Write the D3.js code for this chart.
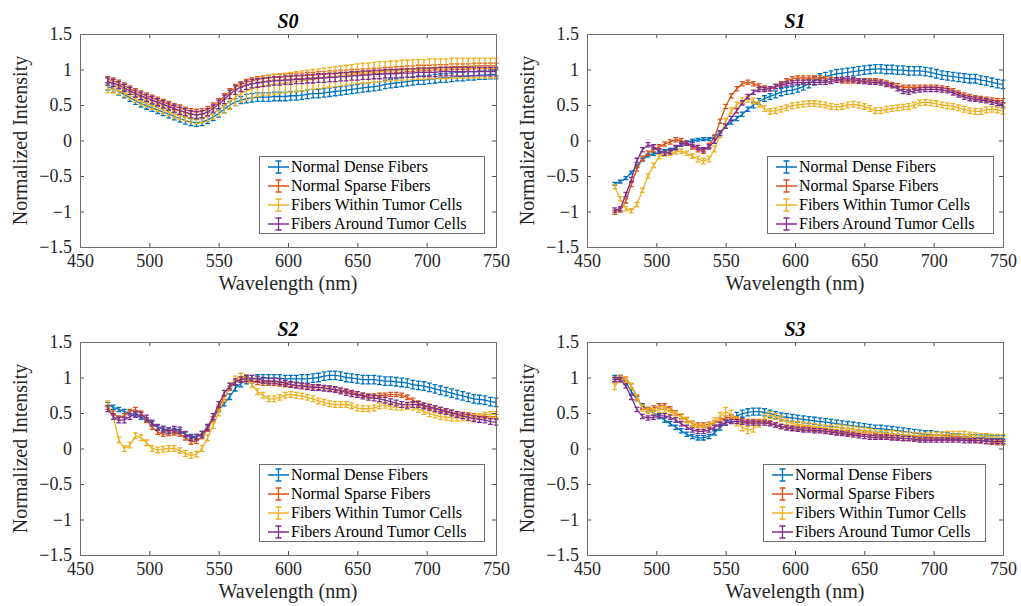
<!DOCTYPE html>
<html>
<head>
<meta charset="utf-8">
<script src="https://cdn.jsdelivr.net/npm/d3@7"></script>
<style>
  body { margin: 0; background: #fff; }
  svg { display: block; }
</style>
</head>
<body>
<svg id="chart" width="1021" height="606"></svg>
<script>
// Wavelength grid (nm) shared by every spectrum
const wavelengths = d3.range(470, 751, 4);

const seriesNames = ["Normal Dense Fibers", "Normal Sparse Fibers", "Fibers Within Tumor Cells", "Fibers Around Tumor Cells"];
const xTicks = [450, 500, 550, 600, 650, 700, 750];
const yTicks = [-1.5, -1, -0.5, 0, 0.5, 1, 1.5];

// ---- S0 ----
const s0Dense = [0.76,0.73,0.69,0.65,0.60,0.56,0.52,0.49,0.46,0.43,
  0.40,0.37,0.34,0.31,0.28,0.26,0.25,0.26,0.29,0.33,
  0.38,0.44,0.50,0.54,0.57,0.59,0.60,0.61,0.61,0.61,
  0.62,0.62,0.62,0.63,0.63,0.64,0.65,0.66,0.66,0.67,
  0.68,0.69,0.70,0.71,0.72,0.73,0.74,0.75,0.76,0.77,
  0.79,0.80,0.81,0.82,0.83,0.84,0.85,0.85,0.86,0.87,
  0.88,0.88,0.89,0.90,0.90,0.91,0.91,0.92,0.92,0.93,0.93];
const s0Sparse = [0.86,0.84,0.81,0.77,0.73,0.69,0.66,0.63,0.60,0.57,
  0.54,0.51,0.48,0.46,0.43,0.41,0.40,0.41,0.44,0.49,
  0.55,0.62,0.69,0.75,0.79,0.82,0.84,0.86,0.87,0.88,
  0.89,0.89,0.90,0.90,0.91,0.91,0.92,0.92,0.93,0.93,
  0.94,0.94,0.95,0.95,0.96,0.96,0.97,0.97,0.98,0.98,
  0.99,0.99,1.00,1.00,1.01,1.01,1.02,1.02,1.02,1.03,
  1.03,1.03,1.04,1.04,1.04,1.04,1.05,1.05,1.05,1.05,1.05];
const s0Within = [0.72,0.72,0.70,0.67,0.63,0.59,0.55,0.52,0.49,0.46,
  0.43,0.40,0.37,0.35,0.33,0.31,0.30,0.31,0.34,0.38,
  0.43,0.49,0.55,0.61,0.66,0.70,0.73,0.75,0.77,0.78,
  0.79,0.80,0.81,0.82,0.83,0.84,0.85,0.86,0.87,0.88,
  0.89,0.90,0.91,0.92,0.93,0.94,0.95,0.95,0.96,0.97,
  0.97,0.98,0.98,0.99,0.99,1.00,1.00,1.00,1.01,1.01,
  1.01,1.01,1.02,1.02,1.02,1.02,1.02,1.02,1.02,1.02,1.02];
const s0Around = [0.83,0.81,0.78,0.74,0.70,0.66,0.63,0.60,0.57,0.54,
  0.51,0.48,0.45,0.42,0.40,0.37,0.36,0.37,0.40,0.45,
  0.51,0.58,0.65,0.71,0.75,0.78,0.80,0.81,0.82,0.83,
  0.84,0.84,0.85,0.85,0.86,0.86,0.87,0.87,0.88,0.88,
  0.89,0.89,0.90,0.90,0.91,0.91,0.92,0.92,0.93,0.93,
  0.94,0.94,0.94,0.95,0.95,0.95,0.96,0.96,0.96,0.96,
  0.97,0.97,0.97,0.97,0.97,0.97,0.97,0.97,0.97,0.97,0.97];
const s0DenseErr = [0.05,0.05,0.05,0.05,0.05,0.05,0.05,0.05,0.05,0.05,
  0.05,0.05,0.05,0.05,0.05,0.05,0.05,0.05,0.05,0.05,
  0.05,0.05,0.05,0.05,0.05,0.06,0.06,0.06,0.06,0.06,
  0.06,0.06,0.06,0.06,0.06,0.06,0.06,0.06,0.06,0.06,
  0.06,0.06,0.06,0.06,0.06,0.06,0.06,0.06,0.06,0.06,
  0.06,0.06,0.06,0.06,0.06,0.06,0.06,0.06,0.06,0.06,
  0.06,0.06,0.06,0.06,0.06,0.06,0.06,0.06,0.06,0.06,0.06];
const s0SparseErr = [0.04,0.04,0.04,0.04,0.04,0.04,0.04,0.04,0.04,0.04,
  0.04,0.04,0.04,0.04,0.04,0.04,0.04,0.04,0.04,0.04,
  0.04,0.04,0.04,0.04,0.04,0.04,0.04,0.04,0.04,0.04,
  0.04,0.04,0.04,0.04,0.04,0.04,0.04,0.04,0.04,0.04,
  0.04,0.04,0.04,0.04,0.04,0.04,0.04,0.04,0.04,0.04,
  0.04,0.04,0.04,0.04,0.04,0.04,0.04,0.04,0.04,0.04,
  0.04,0.04,0.04,0.04,0.04,0.04,0.04,0.04,0.04,0.04,0.04];
const s0WithinErr = [0.05,0.05,0.05,0.05,0.05,0.05,0.05,0.05,0.05,0.05,
  0.05,0.05,0.05,0.05,0.05,0.05,0.06,0.06,0.07,0.08,
  0.09,0.10,0.11,0.12,0.12,0.13,0.13,0.13,0.13,0.14,
  0.14,0.14,0.14,0.14,0.14,0.14,0.14,0.14,0.14,0.14,
  0.14,0.14,0.14,0.14,0.14,0.14,0.14,0.14,0.14,0.14,
  0.14,0.14,0.14,0.14,0.14,0.14,0.14,0.14,0.14,0.14,
  0.14,0.14,0.14,0.14,0.14,0.14,0.14,0.14,0.14,0.14,0.14];
const s0AroundErr = [0.05,0.05,0.05,0.05,0.05,0.05,0.05,0.05,0.05,0.05,
  0.05,0.05,0.05,0.05,0.05,0.05,0.05,0.05,0.05,0.05,
  0.06,0.06,0.06,0.06,0.06,0.06,0.06,0.06,0.06,0.06,
  0.06,0.06,0.06,0.06,0.06,0.06,0.06,0.06,0.06,0.06,
  0.06,0.06,0.06,0.06,0.06,0.06,0.06,0.06,0.06,0.06,
  0.06,0.06,0.06,0.06,0.06,0.06,0.06,0.06,0.06,0.06,
  0.06,0.06,0.06,0.06,0.06,0.06,0.06,0.06,0.06,0.06,0.06];

// ---- S1 ----
const s1Dense = [-0.61,-0.58,-0.53,-0.45,-0.36,-0.27,-0.21,-0.19,-0.17,-0.15,
  -0.13,-0.10,-0.06,-0.03,0.00,0.01,0.02,0.02,0.05,0.12,
  0.20,0.26,0.31,0.37,0.44,0.50,0.55,0.59,0.62,0.65,
  0.68,0.70,0.71,0.73,0.76,0.80,0.84,0.88,0.90,0.92,
  0.94,0.95,0.96,0.97,0.98,0.99,1.00,1.01,1.01,1.00,
  1.00,0.99,0.99,0.98,0.98,0.98,0.97,0.96,0.94,0.92,
  0.91,0.90,0.89,0.88,0.87,0.87,0.85,0.84,0.82,0.80,0.79];
const s1Sparse = [-1.01,-0.98,-0.85,-0.62,-0.40,-0.25,-0.18,-0.13,-0.09,-0.05,
  -0.02,0.01,0.00,-0.04,-0.09,-0.13,-0.15,-0.07,0.05,0.27,
  0.48,0.63,0.73,0.80,0.82,0.80,0.77,0.74,0.73,0.76,
  0.80,0.84,0.87,0.88,0.88,0.88,0.88,0.88,0.87,0.86,
  0.85,0.84,0.84,0.84,0.84,0.84,0.84,0.84,0.83,0.81,
  0.79,0.77,0.75,0.75,0.75,0.75,0.75,0.75,0.75,0.74,
  0.73,0.70,0.67,0.64,0.62,0.60,0.59,0.58,0.57,0.56,0.56];
const s1Within = [-0.65,-0.82,-0.96,-0.99,-0.90,-0.70,-0.50,-0.35,-0.23,-0.19,
  -0.18,-0.16,-0.15,-0.18,-0.22,-0.26,-0.29,-0.26,-0.12,0.08,
  0.27,0.42,0.50,0.56,0.58,0.56,0.51,0.45,0.41,0.42,
  0.44,0.46,0.49,0.50,0.51,0.52,0.52,0.51,0.50,0.48,
  0.47,0.48,0.50,0.51,0.50,0.48,0.45,0.42,0.42,0.44,
  0.45,0.46,0.47,0.48,0.50,0.53,0.54,0.53,0.52,0.50,
  0.49,0.48,0.46,0.44,0.42,0.41,0.41,0.43,0.44,0.43,0.41];
const s1Around = [-0.98,-0.96,-0.76,-0.55,-0.28,-0.13,-0.06,-0.09,-0.15,-0.18,
  -0.16,-0.10,-0.05,-0.04,-0.06,-0.10,-0.13,-0.09,-0.01,0.10,
  0.20,0.31,0.42,0.53,0.62,0.68,0.72,0.72,0.73,0.76,
  0.78,0.80,0.81,0.82,0.82,0.82,0.82,0.82,0.82,0.83,
  0.85,0.86,0.87,0.86,0.84,0.83,0.82,0.82,0.81,0.79,
  0.77,0.73,0.69,0.68,0.70,0.71,0.72,0.72,0.72,0.71,
  0.70,0.67,0.64,0.61,0.59,0.58,0.57,0.56,0.54,0.52,0.50];
const s1DenseErr = [0.02,0.02,0.02,0.02,0.02,0.02,0.02,0.02,0.02,0.02,
  0.02,0.02,0.02,0.02,0.02,0.02,0.02,0.02,0.02,0.02,
  0.03,0.03,0.03,0.03,0.03,0.04,0.04,0.04,0.04,0.05,
  0.05,0.05,0.05,0.05,0.05,0.06,0.06,0.06,0.06,0.06,
  0.06,0.06,0.06,0.06,0.06,0.06,0.06,0.06,0.06,0.06,
  0.06,0.06,0.06,0.06,0.06,0.06,0.06,0.06,0.06,0.06,
  0.06,0.06,0.06,0.06,0.06,0.06,0.06,0.06,0.06,0.06,0.06];
const s1SparseErr = [0.03,0.03,0.03,0.03,0.03,0.03,0.03,0.03,0.03,0.03,
  0.03,0.03,0.03,0.03,0.03,0.03,0.03,0.03,0.03,0.03,
  0.03,0.03,0.03,0.03,0.03,0.03,0.03,0.03,0.03,0.03,
  0.03,0.03,0.03,0.03,0.03,0.03,0.03,0.03,0.03,0.03,
  0.03,0.03,0.03,0.03,0.03,0.03,0.03,0.03,0.03,0.03,
  0.03,0.03,0.03,0.03,0.03,0.03,0.03,0.03,0.03,0.03,
  0.03,0.03,0.03,0.03,0.03,0.03,0.03,0.03,0.03,0.03,0.03];
const s1WithinErr = [0.03,0.03,0.03,0.03,0.03,0.03,0.03,0.03,0.03,0.03,
  0.03,0.03,0.03,0.03,0.03,0.04,0.04,0.04,0.04,0.04,
  0.04,0.04,0.04,0.04,0.04,0.04,0.04,0.04,0.04,0.04,
  0.04,0.04,0.04,0.04,0.04,0.04,0.04,0.04,0.04,0.04,
  0.04,0.04,0.04,0.04,0.04,0.04,0.04,0.04,0.04,0.04,
  0.04,0.04,0.04,0.04,0.04,0.04,0.04,0.04,0.04,0.04,
  0.04,0.04,0.04,0.04,0.04,0.04,0.04,0.04,0.04,0.04,0.04];
const s1AroundErr = [0.03,0.03,0.03,0.03,0.03,0.03,0.03,0.03,0.03,0.03,
  0.03,0.03,0.03,0.03,0.03,0.03,0.03,0.03,0.03,0.03,
  0.03,0.03,0.03,0.03,0.03,0.03,0.03,0.03,0.03,0.03,
  0.03,0.03,0.03,0.03,0.03,0.03,0.03,0.03,0.03,0.03,
  0.03,0.03,0.03,0.03,0.03,0.03,0.03,0.03,0.03,0.03,
  0.03,0.03,0.03,0.03,0.03,0.03,0.03,0.03,0.03,0.03,
  0.03,0.03,0.03,0.03,0.03,0.03,0.03,0.03,0.03,0.03,0.03];

// ---- S2 ----
const s2Dense = [0.62,0.58,0.55,0.52,0.50,0.47,0.44,0.40,0.35,0.30,
  0.28,0.26,0.25,0.24,0.20,0.17,0.17,0.21,0.30,0.42,
  0.55,0.63,0.73,0.85,0.92,0.96,0.98,0.99,0.99,0.99,
  0.99,0.99,0.98,0.98,0.98,0.98,0.98,0.99,1.00,1.02,
  1.03,1.03,1.02,1.00,0.99,0.98,0.97,0.97,0.97,0.96,
  0.95,0.95,0.94,0.93,0.92,0.90,0.89,0.88,0.86,0.84,
  0.82,0.80,0.78,0.76,0.74,0.72,0.70,0.69,0.68,0.66,0.65];
const s2Sparse = [0.58,0.50,0.43,0.46,0.52,0.55,0.50,0.40,0.30,0.23,
  0.20,0.21,0.22,0.20,0.15,0.09,0.10,0.17,0.27,0.42,
  0.58,0.72,0.85,0.93,0.97,0.97,0.95,0.93,0.92,0.92,
  0.92,0.91,0.90,0.90,0.89,0.88,0.88,0.87,0.86,0.85,
  0.84,0.83,0.82,0.81,0.79,0.77,0.75,0.74,0.74,0.75,
  0.75,0.76,0.76,0.75,0.72,0.68,0.64,0.61,0.59,0.57,
  0.55,0.53,0.51,0.49,0.48,0.47,0.46,0.46,0.45,0.45,0.45];
const s2Within = [0.63,0.45,0.12,0.00,0.05,0.18,0.15,0.08,0.00,-0.02,
  -0.01,0.00,0.00,-0.03,-0.07,-0.10,-0.08,0.00,0.15,0.32,
  0.50,0.70,0.88,0.98,1.02,1.00,0.90,0.80,0.75,0.70,
  0.70,0.72,0.75,0.76,0.75,0.74,0.72,0.70,0.67,0.65,
  0.63,0.62,0.62,0.62,0.60,0.57,0.56,0.56,0.57,0.60,
  0.61,0.59,0.58,0.58,0.59,0.58,0.55,0.52,0.49,0.47,
  0.45,0.44,0.43,0.43,0.43,0.43,0.44,0.45,0.47,0.48,0.48];
const s2Around = [0.56,0.45,0.40,0.40,0.45,0.48,0.47,0.43,0.36,0.30,
  0.27,0.25,0.27,0.26,0.20,0.15,0.16,0.20,0.30,0.45,
  0.62,0.78,0.88,0.94,0.97,0.99,0.99,0.98,0.96,0.95,
  0.95,0.94,0.92,0.90,0.89,0.88,0.87,0.86,0.86,0.85,
  0.84,0.83,0.81,0.79,0.77,0.76,0.74,0.72,0.71,0.70,
  0.68,0.66,0.64,0.62,0.61,0.62,0.62,0.60,0.58,0.56,
  0.54,0.52,0.50,0.48,0.46,0.44,0.42,0.41,0.40,0.38,0.37];
const s2DenseErr = [0.03,0.03,0.03,0.03,0.03,0.03,0.03,0.03,0.03,0.03,
  0.03,0.03,0.03,0.03,0.03,0.03,0.03,0.03,0.03,0.03,
  0.03,0.03,0.04,0.04,0.05,0.05,0.05,0.05,0.05,0.05,
  0.05,0.05,0.05,0.05,0.05,0.06,0.06,0.06,0.06,0.06,
  0.06,0.06,0.06,0.06,0.06,0.06,0.06,0.06,0.06,0.06,
  0.06,0.06,0.06,0.06,0.06,0.06,0.06,0.06,0.06,0.06,
  0.06,0.06,0.06,0.06,0.06,0.06,0.06,0.06,0.06,0.06,0.06];
const s2SparseErr = [0.03,0.03,0.03,0.03,0.03,0.03,0.03,0.03,0.03,0.03,
  0.03,0.03,0.03,0.03,0.03,0.03,0.03,0.03,0.03,0.03,
  0.03,0.03,0.03,0.03,0.03,0.03,0.03,0.03,0.03,0.03,
  0.03,0.03,0.03,0.03,0.03,0.03,0.03,0.03,0.03,0.03,
  0.03,0.03,0.03,0.03,0.03,0.03,0.03,0.03,0.03,0.03,
  0.03,0.03,0.03,0.03,0.03,0.03,0.03,0.03,0.03,0.03,
  0.03,0.03,0.03,0.03,0.03,0.03,0.03,0.03,0.03,0.03,0.03];
const s2WithinErr = [0.04,0.04,0.04,0.04,0.04,0.04,0.04,0.04,0.04,0.04,
  0.04,0.04,0.04,0.04,0.04,0.04,0.04,0.04,0.04,0.04,
  0.04,0.04,0.04,0.04,0.04,0.04,0.04,0.04,0.04,0.04,
  0.04,0.04,0.04,0.04,0.04,0.04,0.04,0.04,0.04,0.04,
  0.04,0.04,0.04,0.04,0.04,0.04,0.04,0.04,0.04,0.04,
  0.04,0.04,0.04,0.04,0.04,0.04,0.04,0.04,0.04,0.04,
  0.04,0.04,0.04,0.04,0.04,0.04,0.04,0.04,0.04,0.04,0.04];
const s2AroundErr = [0.04,0.04,0.04,0.04,0.04,0.04,0.04,0.04,0.04,0.04,
  0.04,0.04,0.04,0.04,0.04,0.04,0.04,0.04,0.04,0.04,
  0.04,0.04,0.04,0.04,0.04,0.04,0.04,0.04,0.04,0.04,
  0.04,0.04,0.04,0.04,0.04,0.04,0.04,0.04,0.04,0.04,
  0.04,0.04,0.04,0.04,0.04,0.04,0.04,0.04,0.04,0.04,
  0.04,0.04,0.04,0.04,0.04,0.04,0.04,0.04,0.04,0.04,
  0.04,0.04,0.04,0.04,0.04,0.04,0.04,0.04,0.04,0.04,0.04];

// ---- S3 ----
const s3Dense = [1.00,1.00,0.93,0.80,0.70,0.60,0.55,0.50,0.45,0.40,
  0.35,0.30,0.25,0.20,0.17,0.15,0.15,0.17,0.22,0.30,
  0.37,0.42,0.46,0.49,0.51,0.52,0.52,0.51,0.49,0.47,
  0.45,0.44,0.43,0.42,0.41,0.40,0.39,0.38,0.37,0.36,
  0.35,0.34,0.33,0.32,0.31,0.30,0.29,0.28,0.28,0.27,
  0.26,0.25,0.24,0.23,0.22,0.21,0.20,0.20,0.19,0.18,
  0.18,0.17,0.17,0.16,0.16,0.15,0.15,0.15,0.14,0.14,0.14];
const s3Sparse = [0.97,1.00,0.98,0.88,0.72,0.58,0.55,0.57,0.60,0.60,
  0.56,0.50,0.45,0.40,0.35,0.33,0.33,0.34,0.36,0.40,
  0.43,0.44,0.42,0.39,0.38,0.38,0.38,0.38,0.36,0.33,
  0.31,0.30,0.29,0.29,0.28,0.28,0.27,0.26,0.25,0.24,
  0.23,0.23,0.22,0.21,0.20,0.20,0.19,0.18,0.17,0.16,
  0.16,0.15,0.14,0.14,0.14,0.14,0.14,0.14,0.15,0.15,
  0.15,0.14,0.14,0.14,0.13,0.12,0.11,0.10,0.09,0.08,0.08];
const s3Within = [0.87,0.98,0.97,0.88,0.72,0.57,0.53,0.52,0.55,0.55,
  0.52,0.48,0.45,0.40,0.35,0.30,0.30,0.32,0.38,0.45,
  0.52,0.48,0.38,0.30,0.26,0.28,0.35,0.44,0.47,0.45,
  0.42,0.38,0.35,0.34,0.33,0.32,0.31,0.30,0.29,0.29,
  0.30,0.29,0.28,0.27,0.26,0.25,0.24,0.23,0.22,0.21,
  0.21,0.20,0.19,0.19,0.18,0.18,0.18,0.19,0.19,0.19,
  0.20,0.20,0.20,0.20,0.19,0.18,0.17,0.17,0.16,0.16,0.16];
const s3Around = [0.97,0.97,0.88,0.72,0.55,0.45,0.43,0.44,0.46,0.46,
  0.44,0.40,0.35,0.30,0.26,0.24,0.24,0.26,0.30,0.34,
  0.36,0.38,0.38,0.37,0.36,0.36,0.36,0.36,0.35,0.33,
  0.31,0.29,0.28,0.27,0.26,0.26,0.25,0.25,0.24,0.23,
  0.22,0.21,0.20,0.19,0.18,0.17,0.16,0.16,0.16,0.16,
  0.15,0.15,0.14,0.14,0.13,0.12,0.12,0.12,0.12,0.12,
  0.12,0.12,0.12,0.11,0.11,0.11,0.11,0.10,0.10,0.10,0.10];
const s3DenseErr = [0.03,0.03,0.03,0.03,0.03,0.03,0.03,0.03,0.03,0.03,
  0.03,0.03,0.03,0.03,0.03,0.03,0.03,0.03,0.03,0.04,
  0.04,0.05,0.05,0.05,0.05,0.05,0.05,0.05,0.05,0.05,
  0.05,0.05,0.05,0.05,0.05,0.05,0.05,0.05,0.05,0.05,
  0.05,0.05,0.05,0.05,0.05,0.05,0.05,0.05,0.05,0.05,
  0.05,0.05,0.05,0.05,0.05,0.05,0.05,0.05,0.05,0.05,
  0.04,0.04,0.04,0.04,0.04,0.04,0.04,0.04,0.04,0.04,0.04];
const s3SparseErr = [0.03,0.03,0.03,0.03,0.03,0.03,0.03,0.03,0.03,0.03,
  0.03,0.03,0.03,0.03,0.03,0.03,0.03,0.03,0.03,0.03,
  0.03,0.03,0.03,0.03,0.03,0.03,0.03,0.03,0.03,0.03,
  0.03,0.03,0.03,0.03,0.03,0.03,0.03,0.03,0.03,0.03,
  0.03,0.03,0.03,0.03,0.03,0.03,0.03,0.03,0.03,0.03,
  0.03,0.03,0.03,0.03,0.03,0.03,0.03,0.03,0.03,0.03,
  0.03,0.03,0.03,0.03,0.03,0.03,0.03,0.03,0.03,0.03,0.03];
const s3WithinErr = [0.04,0.04,0.04,0.04,0.04,0.04,0.04,0.04,0.04,0.04,
  0.04,0.04,0.04,0.04,0.04,0.04,0.04,0.04,0.05,0.06,
  0.06,0.06,0.06,0.05,0.05,0.05,0.05,0.05,0.05,0.04,
  0.04,0.04,0.04,0.04,0.04,0.04,0.04,0.04,0.04,0.04,
  0.04,0.04,0.04,0.04,0.04,0.04,0.04,0.04,0.04,0.04,
  0.04,0.04,0.04,0.04,0.04,0.04,0.04,0.04,0.04,0.04,
  0.04,0.04,0.04,0.04,0.04,0.04,0.04,0.04,0.04,0.04,0.04];
const s3AroundErr = [0.03,0.03,0.03,0.03,0.03,0.03,0.03,0.03,0.03,0.03,
  0.03,0.03,0.03,0.03,0.03,0.03,0.03,0.03,0.03,0.03,
  0.03,0.03,0.03,0.03,0.03,0.03,0.03,0.03,0.03,0.03,
  0.03,0.03,0.03,0.03,0.03,0.03,0.03,0.03,0.03,0.03,
  0.03,0.03,0.03,0.03,0.03,0.03,0.03,0.03,0.03,0.03,
  0.03,0.03,0.03,0.03,0.03,0.03,0.03,0.03,0.03,0.03,
  0.03,0.03,0.03,0.03,0.03,0.03,0.03,0.03,0.03,0.03,0.03];

// ---- layout & styling ----
const colors = ["#0072BD", "#D95319", "#EDB120", "#7E2F8E"];
const SERIF = "Tinos";
const TEXT = "#262626";
const plotW = 416, plotH = 213;

const panels = [
  { title: "S0", left: 80,  top: 34,  legend: { x: 259, y: 156, w: 225, h: 77 },
    values: [s0Dense, s0Sparse, s0Within, s0Around], errors: [s0DenseErr, s0SparseErr, s0WithinErr, s0AroundErr] },
  { title: "S1", left: 587, top: 34,  legend: { x: 767, y: 156, w: 226, h: 77 },
    values: [s1Dense, s1Sparse, s1Within, s1Around], errors: [s1DenseErr, s1SparseErr, s1WithinErr, s1AroundErr] },
  { title: "S2", left: 80,  top: 342, legend: { x: 259, y: 464, w: 225, h: 77 },
    values: [s2Dense, s2Sparse, s2Within, s2Around], errors: [s2DenseErr, s2SparseErr, s2WithinErr, s2AroundErr] },
  { title: "S3", left: 587, top: 342, legend: { x: 763, y: 464, w: 222, h: 77 },
    values: [s3Dense, s3Sparse, s3Within, s3Around], errors: [s3DenseErr, s3SparseErr, s3WithinErr, s3AroundErr] }
];

const svg = d3.select("#chart");
svg.append("rect").attr("width", 1021).attr("height", 606).attr("fill", "#fff");

const x = d3.scaleLinear().domain([450, 750]).range([0, plotW]);
const y = d3.scaleLinear().domain([-1.5, 1.5]).range([plotH, 0]);
const fmtY = d => (d < 0 ? "\u2212" + Math.abs(d) : String(d));
const CAP = 2.4;

panels.forEach(p => {
  const g = svg.append("g").attr("transform", `translate(${p.left},${p.top})`);

  // spectra with error bars
  p.values.forEach((vals, k) => {
    const errs = p.errors[k];
    const pts = wavelengths.map((w, i) => ({ w, v: vals[i], e: errs[i] }));
    const sg = g.append("g")
      .attr("stroke", colors[k]).attr("fill", "none")
      .attr("stroke-width", 1.3);
    sg.append("path")
      .attr("d", d3.line().x(d => x(d.w)).y(d => y(d.v))(pts));
    const bars = pts.map(d => {
      const cx = x(d.w), y0 = y(d.v - d.e), y1 = y(d.v + d.e);
      return `M${cx},${y0}V${y1}M${cx - CAP},${y0}H${cx + CAP}M${cx - CAP},${y1}H${cx + CAP}`;
    }).join("");
    sg.append("path").attr("d", bars);
  });

  // axes: inward ticks on all four sides
  const styleAxis = sel => {
    sel.attr("font-family", SERIF).attr("font-size", 18);
    sel.select(".domain").remove();
    sel.selectAll(".tick line").attr("stroke", TEXT).attr("stroke-width", 0.8);
    sel.selectAll(".tick text").attr("fill", TEXT);
  };
  g.append("g").attr("transform", `translate(0,${plotH})`)
    .call(d3.axisBottom(x).tickValues(xTicks).tickSizeInner(-4).tickSizeOuter(0).tickPadding(7))
    .call(styleAxis);
  g.append("g")
    .call(d3.axisTop(x).tickValues(xTicks).tickSizeInner(-4).tickSizeOuter(0).tickFormat(""))
    .call(styleAxis);
  g.append("g")
    .call(d3.axisLeft(y).tickValues(yTicks).tickSizeInner(-4).tickSizeOuter(0).tickPadding(8).tickFormat(fmtY))
    .call(styleAxis);
  g.append("g").attr("transform", `translate(${plotW},0)`)
    .call(d3.axisRight(y).tickValues(yTicks).tickSizeInner(-4).tickSizeOuter(0).tickFormat(""))
    .call(styleAxis);

  g.append("rect")
    .attr("x", 0.5).attr("y", 0.5).attr("width", plotW).attr("height", plotH)
    .attr("fill", "none").attr("stroke", "#6f6f6f").attr("stroke-width", 1);

  // title
  g.append("text")
    .attr("x", plotW / 2).attr("y", -6)
    .attr("text-anchor", "middle")
    .attr("font-family", SERIF).attr("font-size", 20)
    .attr("font-weight", "bold").attr("font-style", "italic")
    .attr("fill", "#000")
    .text(p.title);

  // axis labels
  g.append("text")
    .attr("x", plotW / 2).attr("y", plotH + 43)
    .attr("text-anchor", "middle")
    .attr("font-family", SERIF).attr("font-size", 20)
    .attr("fill", TEXT)
    .text("Wavelength (nm)");
  g.append("text")
    .attr("transform", `translate(-53,${plotH / 2}) rotate(-90)`)
    .attr("text-anchor", "middle")
    .attr("font-family", SERIF).attr("font-size", 20)
    .attr("fill", TEXT)
    .text("Normalized Intensity");

  // legend
  const L = p.legend;
  const lg = svg.append("g").attr("transform", `translate(${L.x},${L.y})`);
  lg.append("rect")
    .attr("x", 0.5).attr("y", 0.5).attr("width", L.w).attr("height", L.h)
    .attr("fill", "#fff").attr("stroke", "#6f6f6f").attr("stroke-width", 1);
  seriesNames.forEach((name, k) => {
    const cy = 11 + k * 19;
    const eg = lg.append("g").attr("stroke", colors[k]).attr("stroke-width", 1.3).attr("fill", "none");
    eg.append("path").attr("d", `M9,${cy}H30M19.5,${cy - 6}V${cy + 6}M16.5,${cy - 6}H22.5M16.5,${cy + 6}H22.5`);
    lg.append("text")
      .attr("x", 32).attr("y", cy).attr("dy", "0.33em")
      .attr("font-family", SERIF).attr("font-size", 16)
      .attr("fill", "#000")
      .text(name);
  });
});
</script>
</body>
</html>
